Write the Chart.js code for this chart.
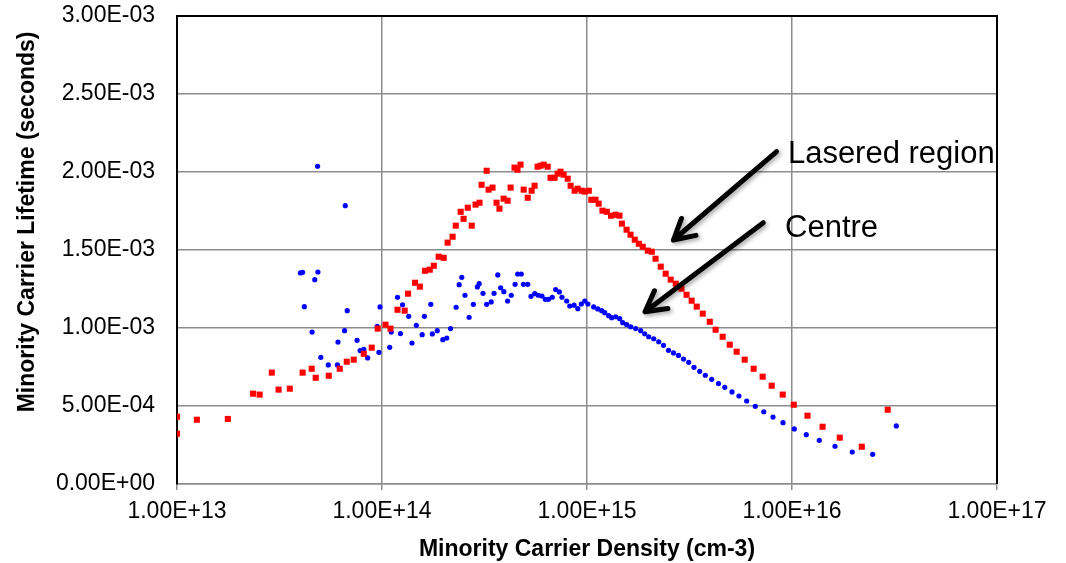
<!DOCTYPE html>
<html>
<head>
<meta charset="utf-8">
<script src="https://cdn.jsdelivr.net/npm/chart.js@4.4.1/dist/chart.umd.min.js"></script>
<style>
  html, body { margin: 0; padding: 0; background: #fff; }
  #wrap { width: 1066px; height: 563px; }
</style>
</head>
<body>
<div id="wrap"><canvas id="chart" width="1066" height="563"></canvas></div>
<script>
// Lasered region (red squares): carrier density (cm-3) and lifetime (s)
const laseredDensity = [
  1.00e13, 1.00e13, 1.25e13, 1.77e13, 2.35e13, 2.53e13, 2.90e13, 3.13e13, 3.55e13, 4.10e13,
  4.54e13, 4.75e13, 5.50e13, 6.22e13, 6.73e13, 7.28e13, 8.15e13, 8.91e13, 9.53e13, 1.04e14,
  1.10e14, 1.19e14, 1.29e14, 1.34e14, 1.45e14, 1.53e14, 1.62e14, 1.71e14, 1.79e14, 1.89e14,
  2.00e14, 2.09e14, 2.21e14, 2.29e14, 2.42e14, 2.50e14, 2.62e14, 2.74e14, 2.86e14, 2.99e14,
  3.06e14, 3.24e14, 3.31e14, 3.46e14, 3.62e14, 3.74e14, 3.92e14, 4.10e14, 4.24e14, 4.43e14,
  4.58e14, 4.74e14, 4.91e14, 5.14e14, 5.37e14, 5.55e14, 5.74e14, 5.93e14, 6.15e14, 6.43e14,
  6.64e14, 6.95e14, 7.19e14, 7.43e14, 7.69e14, 8.05e14, 8.32e14, 8.70e14, 9.00e14, 9.42e14,
  9.75e14, 1.02e15, 1.05e15, 1.10e15, 1.14e15, 1.19e15, 1.25e15, 1.31e15, 1.38e15, 1.44e15,
  1.48e15, 1.56e15, 1.63e15, 1.71e15, 1.79e15, 1.87e15, 1.98e15, 2.07e15, 2.16e15, 2.29e15,
  2.42e15, 2.56e15, 2.71e15, 2.89e15, 3.06e15, 3.24e15, 3.43e15, 3.67e15, 3.97e15, 4.24e15,
  4.59e15, 4.97e15, 5.37e15, 5.88e15, 6.50e15, 7.19e15, 7.96e15, 9.01e15, 1.02e16, 1.19e16,
  1.41e16, 1.71e16, 2.19e16, 2.93e16
];
const laseredLifetime = [
  4.31e-4, 3.22e-4, 4.12e-4, 4.17e-4, 5.79e-4, 5.73e-4, 7.14e-4, 6.05e-4, 6.11e-4, 7.14e-4,
  7.39e-4, 6.81e-4, 6.94e-4, 7.39e-4, 7.84e-4, 7.97e-4, 8.35e-4, 8.74e-4, 9.96e-4, 1.021e-3,
  9.96e-4, 1.117e-3, 1.111e-3, 1.220e-3, 1.290e-3, 1.265e-3, 1.367e-3, 1.374e-3, 1.399e-3, 1.457e-3,
  1.450e-3, 1.547e-3, 1.585e-3, 1.656e-3, 1.745e-3, 1.700e-3, 1.771e-3, 1.656e-3, 1.791e-3, 1.803e-3,
  1.918e-3, 2.008e-3, 1.887e-3, 1.900e-3, 1.803e-3, 1.765e-3, 1.829e-3, 1.816e-3, 1.900e-3, 2.028e-3,
  2.015e-3, 2.047e-3, 1.887e-3, 1.835e-3, 1.880e-3, 1.912e-3, 2.034e-3, 2.040e-3, 2.047e-3, 2.034e-3,
  1.963e-3, 1.963e-3, 1.989e-3, 2.002e-3, 1.983e-3, 1.957e-3, 1.912e-3, 1.880e-3, 1.893e-3, 1.880e-3,
  1.874e-3, 1.880e-3, 1.822e-3, 1.822e-3, 1.797e-3, 1.752e-3, 1.745e-3, 1.720e-3, 1.726e-3, 1.720e-3,
  1.669e-3, 1.630e-3, 1.598e-3, 1.566e-3, 1.540e-3, 1.521e-3, 1.496e-3, 1.489e-3, 1.444e-3, 1.393e-3,
  1.348e-3, 1.310e-3, 1.284e-3, 1.252e-3, 1.213e-3, 1.175e-3, 1.137e-3, 1.092e-3, 1.040e-3, 9.89e-4,
  9.44e-4, 8.93e-4, 8.48e-4, 7.97e-4, 7.39e-4, 6.88e-4, 6.30e-4, 5.73e-4, 5.08e-4, 4.38e-4,
  3.67e-4, 2.97e-4, 2.39e-4, 4.76e-4
];

// Centre (blue dots)
const centreDensity = [
  4.00e13, 4.10e13, 4.18e13, 4.56e13, 4.70e13, 4.85e13, 4.87e13, 5.03e13, 5.47e13, 6.06e13,
  6.10e13, 6.57e13, 6.62e13, 6.77e13, 7.56e13, 7.82e13, 8.15e13, 8.51e13, 9.48e13, 9.66e13,
  9.78e13, 1.09e14, 1.11e14, 1.19e14, 1.23e14, 1.26e14, 1.35e14, 1.40e14, 1.47e14, 1.57e14,
  1.61e14, 1.73e14, 1.76e14, 1.86e14, 1.98e14, 2.07e14, 2.16e14, 2.30e14, 2.38e14, 2.45e14,
  2.54e14, 2.66e14, 2.79e14, 2.92e14, 2.98e14, 3.11e14, 3.24e14, 3.41e14, 3.52e14, 3.67e14,
  3.79e14, 3.93e14, 4.10e14, 4.27e14, 4.46e14, 4.59e14, 4.78e14, 4.90e14, 5.14e14, 5.33e14,
  5.56e14, 5.79e14, 6.03e14, 6.26e14, 6.48e14, 6.77e14, 7.03e14, 7.33e14, 7.55e14, 7.96e14,
  8.24e14, 8.65e14, 9.02e14, 9.38e14, 9.75e14, 1.01e15, 1.078e15, 1.128e15, 1.179e15, 1.220e15,
  1.276e15, 1.320e15, 1.380e15, 1.444e15, 1.493e15, 1.562e15, 1.634e15, 1.728e15, 1.828e15, 1.912e15,
  2.000e15, 2.116e15, 2.238e15, 2.362e15, 2.498e15, 2.642e15, 2.794e15, 2.956e15, 3.134e15, 3.327e15,
  3.546e15, 3.776e15, 4.058e15, 4.380e15, 4.700e15, 5.10e15, 5.51e15, 6.01e15, 6.62e15, 7.28e15,
  8.08e15, 9.04e15, 1.026e16, 1.174e16, 1.359e16, 1.621e16, 1.968e16, 2.475e16, 3.227e16
];
const centreLifetime = [
  1.353e-3, 1.357e-3, 1.137e-3, 9.74e-4, 1.310e-3, 2.037e-3, 1.359e-3, 8.12e-4, 7.63e-4, 7.63e-4,
  9.10e-4, 9.83e-4, 1.784e-3, 1.111e-3, 9.21e-4, 8.55e-4, 8.63e-4, 8.08e-4, 1.011e-3, 8.44e-4,
  1.135e-3, 8.76e-4, 9.74e-4, 1.197e-3, 9.64e-4, 1.149e-3, 1.075e-3, 9.04e-4, 1.017e-3, 9.57e-4,
  1.075e-3, 1.152e-3, 9.62e-4, 9.83e-4, 9.25e-4, 9.36e-4, 9.96e-4, 1.133e-3, 1.278e-3, 1.325e-3,
  1.210e-3, 1.069e-3, 1.152e-3, 1.263e-3, 1.284e-3, 1.222e-3, 1.152e-3, 1.167e-3, 1.222e-3, 1.340e-3,
  1.258e-3, 1.233e-3, 1.173e-3, 1.210e-3, 1.280e-3, 1.346e-3, 1.346e-3, 1.280e-3, 1.280e-3, 1.203e-3,
  1.220e-3, 1.210e-3, 1.205e-3, 1.184e-3, 1.184e-3, 1.197e-3, 1.246e-3, 1.231e-3, 1.197e-3, 1.173e-3,
  1.141e-3, 1.146e-3, 1.124e-3, 1.154e-3, 1.173e-3, 1.154e-3, 1.135e-3, 1.122e-3, 1.111e-3, 1.098e-3,
  1.079e-3, 1.066e-3, 1.072e-3, 1.060e-3, 1.034e-3, 1.021e-3, 1.008e-3, 9.96e-4, 9.83e-4, 9.63e-4,
  9.44e-4, 9.31e-4, 9.12e-4, 8.89e-4, 8.57e-4, 8.40e-4, 8.24e-4, 8.01e-4, 7.80e-4, 7.48e-4,
  7.22e-4, 6.97e-4, 6.71e-4, 6.44e-4, 6.20e-4, 5.90e-4, 5.64e-4, 5.32e-4, 4.98e-4, 4.63e-4,
  4.29e-4, 3.93e-4, 3.53e-4, 3.16e-4, 2.80e-4, 2.42e-4, 2.05e-4, 1.90e-4, 3.72e-4
];

const xTickValues = [1e13, 1e14, 1e15, 1e16, 1e17];

// annotations: label text, label anchor (data coords), arrow tail and tip (data coords)
const annotationLabels = ['Lasered region', 'Centre'];
const labelAnchors = [[9.55e15, 2.055e-3], [9.25e15, 1.585e-3]];
const arrowTails = [[8.41e15, 2.130e-3], [7.24e15, 1.675e-3]];
const arrowTips = [[2.64e15, 1.564e-3], [1.92e15, 1.104e-3]];

const FONT = "'Liberation Sans', Arial, sans-serif";

function sciLabel(v) {
  const parts = Number(v).toExponential(2).split('e');
  const exp = parseInt(parts[1], 10);
  return parts[0] + 'E' + (exp < 0 ? '-' : '+') + String(Math.abs(exp)).padStart(2, '0');
}

function toPoints(xs, ys) {
  return xs.map((x, i) => ({ x: x, y: ys[i] }));
}

// frame, y title, arrows and labels
const decorations = {
  id: 'decorations',
  afterDatasetsDraw(chart) {
    const ctx = chart.ctx;
    const xs = chart.scales.x;
    const ys = chart.scales.y;
    const area = chart.chartArea;

    // black frame on top and right
    ctx.save();
    ctx.strokeStyle = '#000';
    ctx.lineWidth = 2;
    ctx.beginPath();
    ctx.moveTo(area.left, area.top);
    ctx.lineTo(area.right, area.top);
    ctx.lineTo(area.right, area.bottom);
    ctx.stroke();
    ctx.restore();

    // arrows
    arrowTails.forEach((tail, i) => {
      const x0 = xs.getPixelForValue(tail[0]);
      const y0 = ys.getPixelForValue(tail[1]);
      const x1 = xs.getPixelForValue(arrowTips[i][0]);
      const y1 = ys.getPixelForValue(arrowTips[i][1]);
      const ang = Math.atan2(y0 - y1, x0 - x1);
      const head = 23;
      const spread = 29 * Math.PI / 180;
      ctx.save();
      ctx.shadowColor = 'rgba(0,0,0,0.35)';
      ctx.shadowBlur = 4;
      ctx.shadowOffsetX = 2;
      ctx.shadowOffsetY = 2;
      ctx.strokeStyle = '#000';
      ctx.lineWidth = 5;
      ctx.lineCap = 'round';
      ctx.lineJoin = 'round';
      ctx.beginPath();
      ctx.moveTo(x0, y0);
      ctx.lineTo(x1, y1);
      ctx.moveTo(x1 + head * Math.cos(ang - spread), y1 + head * Math.sin(ang - spread));
      ctx.lineTo(x1, y1);
      ctx.lineTo(x1 + head * Math.cos(ang + spread), y1 + head * Math.sin(ang + spread));
      ctx.stroke();
      ctx.restore();
    });

    // labels
    ctx.save();
    ctx.fillStyle = '#000';
    ctx.font = '31px ' + FONT;
    ctx.textAlign = 'left';
    ctx.textBaseline = 'alphabetic';
    annotationLabels.forEach((txt, i) => {
      ctx.fillText(txt, xs.getPixelForValue(labelAnchors[i][0]), ys.getPixelForValue(labelAnchors[i][1]));
    });
    ctx.restore();

    // y axis title
    ctx.save();
    ctx.fillStyle = '#000';
    ctx.font = 'bold 23px ' + FONT;
    ctx.textAlign = 'center';
    ctx.textBaseline = 'middle';
    ctx.translate(28, ys.getPixelForValue(1.68e-3));
    ctx.rotate(-Math.PI / 2);
    ctx.fillText('Minority Carrier Lifetime (seconds)', 0, 0);
    ctx.restore();
  }
};

new Chart(document.getElementById('chart'), {
  type: 'scatter',
  data: {
    datasets: [
      {
        label: 'Lasered region',
        data: toPoints(laseredDensity, laseredLifetime),
        pointStyle: 'rect',
        pointRadius: 4.3,
        backgroundColor: '#ff0000',
        borderWidth: 0
      },
      {
        label: 'Centre',
        data: toPoints(centreDensity, centreLifetime),
        pointStyle: 'circle',
        pointRadius: 2.6,
        backgroundColor: '#0000ff',
        borderWidth: 0
      }
    ]
  },
  options: {
    responsive: false,
    animation: false,
    layout: {
      padding: { left: 0, top: 16, right: 69, bottom: 0 }
    },
    plugins: {
      legend: { display: false },
      tooltip: { enabled: false }
    },
    scales: {
      x: {
        type: 'logarithmic',
        min: 1e13,
        max: 1e17,
        afterBuildTicks: scale => {
          scale.ticks = xTickValues.map(v => ({ value: v }));
        },
        afterFit: scale => {
          scale.height = 79;
          scale.paddingLeft = 0;
          scale.paddingRight = 0;
        },
        grid: {
          color: '#8c8c8c',
          lineWidth: 1.5,
          drawTicks: true,
          tickLength: 6
        },
        border: { color: '#8c8c8c', width: 1.5 },
        ticks: {
          autoSkip: false,
          maxRotation: 0,
          padding: 8,
          color: '#000',
          font: { family: FONT, size: 23 },
          callback: value => sciLabel(value)
        },
        title: {
          display: true,
          text: 'Minority Carrier Density (cm-3)',
          color: '#000',
          font: { family: FONT, size: 23, weight: 'bold' },
          padding: { top: 4, bottom: 0 }
        }
      },
      y: {
        min: 0,
        max: 0.003,
        afterFit: scale => {
          scale.width = 177;
          scale.paddingTop = 0;
          scale.paddingBottom = 0;
        },
        grid: {
          color: '#8c8c8c',
          lineWidth: 1.5,
          drawTicks: false
        },
        border: { color: '#000', width: 2 },
        ticks: {
          stepSize: 0.0005,
          padding: 22,
          color: '#000',
          font: { family: FONT, size: 23 },
          callback: value => sciLabel(value)
        }
      }
    }
  },
  plugins: [decorations]
});
</script>
</body>
</html>
